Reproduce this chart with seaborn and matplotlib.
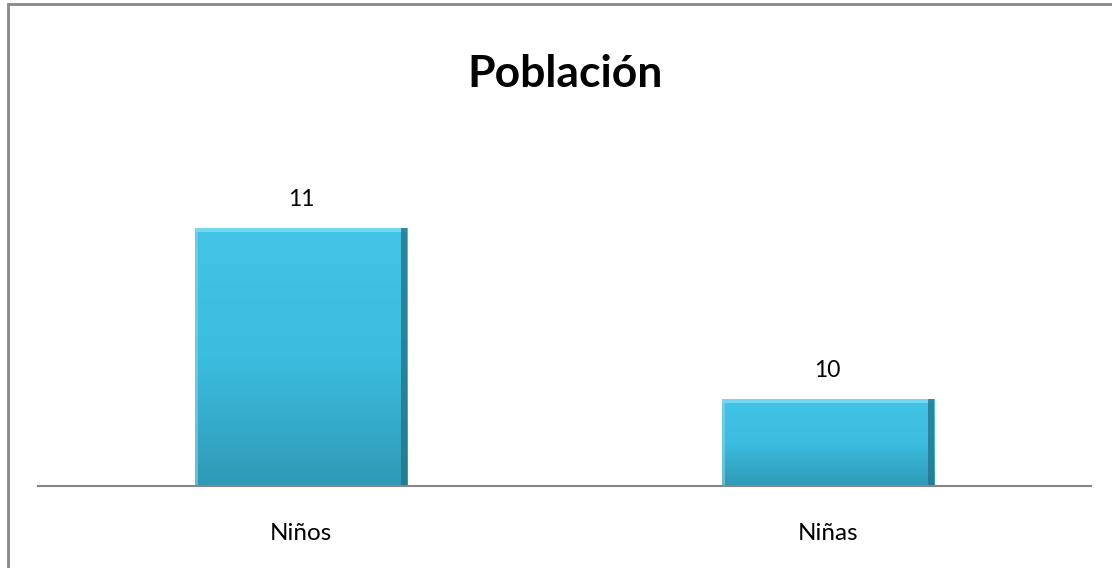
import numpy as np
import pandas as pd
import matplotlib
matplotlib.use("Agg")
import matplotlib.pyplot as plt
import seaborn as sns
from matplotlib.patches import Rectangle
from matplotlib.colors import LinearSegmentedColormap

categories = ["Niños", "Niñas"]
values = [11, 10]
title = "Población"

sns.set_theme(style="white")
FONT = ['Lato', 'DejaVu Sans']
plt.rcParams['font.family'] = FONT

fig = plt.figure(figsize=(11.12, 5.68), dpi=100)
ax = fig.add_axes([38/1112, 82/568, 1053/1112, 344/568])

df = pd.DataFrame({"cat": categories, "val": values})
sns.barplot(data=df, x="cat", y="val", ax=ax, color="#3BBCE0", width=0.403,
            saturation=1, edgecolor="none")

YLIM = (9.49, 11.5)
ax.set_ylim(*YLIM)
ax.set_xlim(-0.5, 1.5)

# gradient overlay on bars
cmap = LinearSegmentedColormap.from_list("g", ["#2F9AB6", "#3BBDE0", "#43C4E6"])
grad = np.linspace(0, 1, 256).reshape(-1, 1)
for p in list(ax.patches):
    x0, y0 = p.get_x(), p.get_y()
    w, h = p.get_width(), p.get_height()
    ymin = YLIM[0]
    im = ax.imshow(grad, extent=(x0, x0 + w, ymin, y0 + h), origin="lower",
                   aspect="auto", cmap=cmap, zorder=p.get_zorder() + 0.1)
    im.set_clip_path(p)
    ax.add_patch(Rectangle((x0, y0 + h - 0.025), w, 0.025, facecolor="#7FDDF3",
                           edgecolor="none", zorder=p.get_zorder() + 0.2, alpha=0.8))
    ax.add_patch(Rectangle((x0 + w - 0.012, ymin), 0.012, y0 + h - ymin,
                           facecolor="#23758A", edgecolor="none",
                           zorder=p.get_zorder() + 0.2, alpha=0.8))
    ax.add_patch(Rectangle((x0, ymin), 0.006, y0 + h - ymin,
                           facecolor="#8FD3E6", edgecolor="none",
                           zorder=p.get_zorder() + 0.2, alpha=0.6))
ax.set_xlim(-0.5, 1.5)
ax.set_ylim(*YLIM)

for i, v in enumerate(values):
    ax.annotate(str(v), xy=(i, v), xytext=(0, 15.5), textcoords="offset points",
                ha="center", va="baseline", fontsize=16.5, color="#000000")

for s in ["top", "right", "left"]:
    ax.spines[s].set_visible(False)
ax.spines["bottom"].set_color("#868686")
ax.spines["bottom"].set_linewidth(1.5)
ax.spines["bottom"].set_zorder(10)
ax.set_yticks([])
ax.set_xlabel("")
ax.set_ylabel("")
ax.tick_params(axis="x", length=0, pad=38.9, labelsize=17.5, colors="#000000")
for lab in ax.get_xticklabels():
    lab.set_verticalalignment("baseline")

fig.text(565/1112, 1 - 87/568, title, ha="center", va="baseline",
         fontsize=32, fontweight="bold", color="#000000")

# chart frame (top and left visible)
frame = Rectangle((8/1112, -0.1), 1.2, 1 - 4/568 + 0.1, transform=fig.transFigure,
                  fill=False, edgecolor="#888888", linewidth=2)
fig.add_artist(frame)

fig.savefig("out.png", dpi=100)
